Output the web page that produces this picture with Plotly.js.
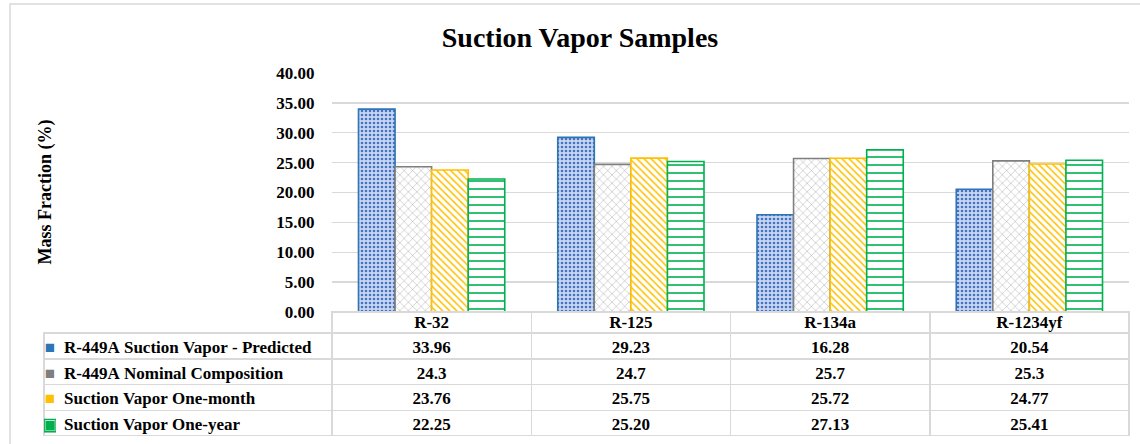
<!DOCTYPE html>
<html>
<head>
<meta charset="utf-8">
<script src="https://cdn.plot.ly/plotly-3.0.1.min.js"></script>
<style>html,body{margin:0;padding:0;background:#fff;}#chart{width:1140px;height:444px;}</style>
</head>
<body>
<div id="chart"></div>
<script>
const categories = ['R-32', 'R-125', 'R-134a', 'R-1234yf'];
const seriesNames = ['R-449A Suction Vapor - Predicted', 'R-449A Nominal Composition', 'Suction Vapor One-month', 'Suction Vapor One-year'];
const predicted = [33.96, 29.23, 16.28, 20.54];
const nominal = [24.3, 24.7, 25.7, 25.3];
const oneMonth = [23.76, 25.75, 25.72, 24.77];
const oneYear = [22.25, 25.20, 27.13, 25.41];
const yTicks = [0, 5, 10, 15, 20, 25, 30, 35, 40];

const serif = '"Liberation Serif", "Times New Roman", Times, serif';
const lineColors = ['#2E75B6', '#7F7F7F', '#FFC000', '#00B050'];
const bgColors = ['#c9d6f0', '#ffffff', '#ffffff', '#ffffff'];
const patterns = [
  {shape: '.', fgcolor: '#4472C4', size: 4, solidity: 0.35},
  {shape: 'x', fgcolor: '#8c8c8c', size: 6, solidity: 0.12},
  {shape: '\\', fgcolor: '#FFC000', size: 5, solidity: 0.3},
  {shape: '-', fgcolor: '#00B050', size: 8, solidity: 0.2}
];
const seriesValues = [predicted, nominal, oneMonth, oneYear];
const formats = [v => String(v), v => String(v), v => String(v), v => v.toFixed(2)];

const traces = seriesValues.map((vals, i) => ({
  type: 'bar',
  name: seriesNames[i],
  x: categories,
  y: vals,
  marker: {
    color: bgColors[i],
    line: {color: lineColors[i], width: 1.6},
    pattern: Object.assign({fillmode: 'replace', bgcolor: bgColors[i]}, patterns[i])
  },
  hoverinfo: 'x+y+name',
  showlegend: false
}));

// table geometry (pixels of the paper area)
const paperH = 363, tableH = 124, headerH = 21, rowH = 25.75;
const textTop = 129, textHeaderH = 25;
const gridLine = '#d9d9d9', clear = 'rgba(0,0,0,0)';
const blank = n => Array(n).fill('');

// data table grid (borders only)
traces.push({
  type: 'table',
  domain: {x: [0, 1], y: [0, tableH / paperH]},
  columnwidth: [288, 199.25, 199.25, 199.25, 199.25],
  header: {values: blank(5), height: headerH, fill: {color: clear},
           line: {color: [clear, gridLine, gridLine, gridLine, gridLine], width: 1.5}},
  cells: {values: Array(5).fill(blank(4)), height: rowH, fill: {color: clear},
          line: {color: gridLine, width: 1.5}},
  hoverinfo: 'skip'
});

// data table text (keys, series names, values); non-breaking spaces keep names on one line
const nb = s => s.replace(/ /g, '\u00a0');
const keyGlyphs = ['■', '■', '■', '▣'];
const labelCol = seriesNames.map(nb);
const valueCols = categories.map((c, ci) => seriesValues.map((vals, si) => formats[si](vals[ci])));
const textFont = {family: serif, size: 17, weight: 'bold'};

traces.push({
  type: 'table',
  domain: {x: [0, 1], y: [(textTop - textHeaderH - 4 * rowH) / paperH, textTop / paperH]},
  columnwidth: [12, 276, 199.25, 199.25, 199.25, 199.25],
  header: {
    values: ['', ''].concat(categories),
    align: 'center', height: textHeaderH,
    fill: {color: clear}, line: {color: clear, width: 0},
    font: Object.assign({color: '#000'}, textFont)
  },
  cells: {
    values: [keyGlyphs, labelCol].concat(valueCols),
    align: ['center', 'left', 'center', 'center', 'center', 'center'],
    height: rowH,
    fill: {color: clear}, line: {color: clear, width: 0},
    font: Object.assign({}, textFont, {color: [lineColors, '#000', '#000', '#000', '#000', '#000']})
  },
  hoverinfo: 'skip'
});

const layout = {
  width: 1140, height: 444,
  margin: {l: 44, r: 11, t: 73, b: 8, pad: 0},
  paper_bgcolor: '#fff', plot_bgcolor: '#fff',
  font: {family: serif},
  title: {text: '<b>Suction Vapor Samples</b>', font: {family: serif, size: 28, color: '#000'}, x: 580 / 1140, xref: 'container', y: 1 - 37 / 444, yref: 'container', yanchor: 'middle'},
  barmode: 'group', bargap: 0.266, bargroupgap: 0,
  xaxis: {domain: [288 / 1085, 1], showticklabels: false, showgrid: false, zeroline: false, showline: false, ticks: ''},
  yaxis: {domain: [tableH / paperH, 1], range: [0, 40], tickvals: yTicks, tickformat: '.2f', showgrid: true, gridcolor: gridLine, gridwidth: 1.3,
          zeroline: false, showline: false, ticks: 'outside', ticklen: 13, tickcolor: clear,
          tickfont: {family: serif, size: 17, color: '#000', weight: 'bold'}},
  annotations: [{text: '<b>Mass Fraction (%)</b>', xref: 'paper', yref: 'y domain', x: 0.001, y: 0.5, textangle: -90, showarrow: false,
                 xanchor: 'center', yanchor: 'middle', font: {family: serif, size: 18, color: '#000'}}],
  shapes: [{type: 'rect', xref: 'paper', yref: 'paper', x0: -34 / 1085, x1: 1.03, y0: -0.05, y1: 432 / 363, line: {color: gridLine, width: 1.5}, layer: 'below'}]
};

Plotly.newPlot('chart', traces, layout, {displayModeBar: false, staticPlot: true});
</script>
</body>
</html>
